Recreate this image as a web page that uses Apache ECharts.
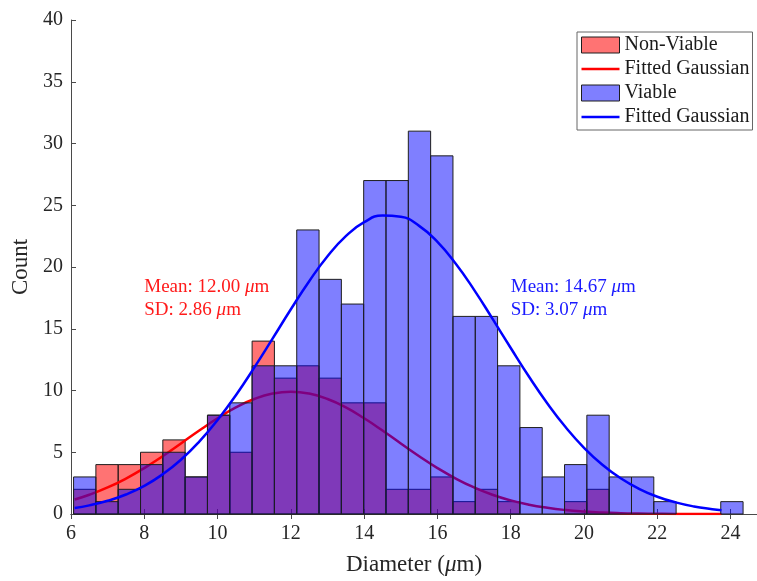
<!DOCTYPE html>
<html>
<head>
<meta charset="utf-8">
<script src="https://cdn.jsdelivr.net/npm/echarts@6/dist/echarts.min.js"></script>
<style>
  html, body { margin: 0; padding: 0; background: #ffffff; }
  #chart { width: 757px; height: 581px; }
</style>
</head>
<body>
<div id="chart"></div>
<script>
// Histogram bins (um)
const binStart = 6.07;
const binWidth = 0.609;

// Counts per bin
const nonViableCounts = [2, 4, 4, 5, 6, 3, 8, 5, 14, 11, 12, 11, 9, 9, 2, 2, 3, 1, 2, 1, 0, 0, 1, 2, 0, 0, 0, 0, 0, 0];
const viableCounts    = [3, 1, 2, 4, 5, 3, 8, 9, 12, 12, 23, 19, 17, 27, 27, 31, 29, 16, 16, 12, 7, 3, 4, 8, 3, 3, 1, 0, 0, 1];

// Fitted Gaussian curves (count scale)
const curveX = [6.1, 6.5, 7, 7.5, 8, 8.5, 9, 9.5, 10, 10.5, 11, 11.5, 12, 12.5, 13, 13.5, 14, 14.5, 15, 15.5,
                16, 16.5, 17, 17.5, 18, 18.5, 19, 19.5, 20, 20.5, 21, 21.5, 22, 22.5, 23, 23.5, 23.75];
const nonViableFit = [1.18, 1.56, 2.15, 2.87, 3.72, 4.68, 5.71, 6.76, 7.75, 8.63, 9.31, 9.75, 9.90, 9.75, 9.31, 8.63, 7.75, 6.76, 5.71, 4.68,
                      3.72, 2.87, 2.15, 1.56, 1.10, 0.75, 0.50, 0.32, 0.20, 0.12, 0.07, 0.04, 0.02, 0.01, 0.01, 0.00, 0.00];
const viableFit = [0.49, 0.70, 1.07, 1.58, 2.28, 3.21, 4.39, 5.86, 7.61, 9.62, 11.85, 14.20, 16.58, 18.85, 20.87, 22.50, 23.63, 24.16, 24.06, 23.33,
                   22.03, 20.26, 18.15, 15.82, 13.44, 11.11, 8.95, 7.02, 5.36, 3.99, 2.89, 2.04, 1.40, 0.94, 0.61, 0.39, 0.30];

// Fit statistics
const nonViableStats = { mean: '12.00', sd: '2.86' };
const viableStats = { mean: '14.67', sd: '3.07' };

const FONT = '"Liberation Serif", "DejaVu Serif", serif';
const AXIS_COLOR = '#4a4a4a';
const RED_FILL = 'rgba(255,0,0,0.55)';
const BLUE_FILL = 'rgba(0,0,255,0.5)';
const EDGE = '#1e1e1e';
// Legend glyph for a fitted curve: a horizontal stroke centred in a 38x16 box
const LINE_ICON = 'path://M0,0h38v0.01h-38z M0,6.8h38v2.4h-38z M0,15.99h38v0.01h-38z';

function binData(counts) {
  return counts
    .map((c, i) => [binStart + i * binWidth, binStart + (i + 1) * binWidth, c])
    .filter(d => d[2] > 0);
}

function histRenderer(fill) {
  return function (params, api) {
    const p0 = api.coord([api.value(0), api.value(2)]);
    const p1 = api.coord([api.value(1), 0]);
    return {
      type: 'rect',
      shape: { x: p0[0], y: p0[1], width: p1[0] - p0[0], height: p1[1] - p0[1] },
      style: { fill: fill, stroke: EDGE, lineWidth: 1 }
    };
  };
}

const chart = echarts.init(document.getElementById('chart'), null, { renderer: 'canvas' });

const option = {
  animation: false,
  backgroundColor: '#ffffff',
  textStyle: { fontFamily: FONT },
  grid: { left: 71, right: 0, top: 20, bottom: 61, containLabel: false },
  xAxis: [
    {
      type: 'value', min: 6, max: 24.72, interval: 2,
      name: '{n|Diameter (}{i|μ}{n|m)}',
      nameLocation: 'middle', nameGap: 39,
      nameTextStyle: {
        rich: {
          n: { fontFamily: FONT, fontSize: 23, color: '#262626' },
          i: { fontFamily: FONT, fontSize: 23, fontStyle: 'italic', color: '#262626' }
        }
      },
      axisLine: { show: true, onZero: false, lineStyle: { color: AXIS_COLOR, width: 1 } },
      axisTick: { show: true, inside: true, length: 5, lineStyle: { color: AXIS_COLOR } },
      axisLabel: { fontFamily: FONT, fontSize: 20, color: '#262626', margin: 10, showMaxLabel: false },
      splitLine: { show: false }
    },
    {
      type: 'value', position: 'top', min: 6, max: 24.72, interval: 2,
      axisLine: { show: true, lineStyle: { color: AXIS_COLOR, width: 1 } },
      axisTick: { show: true, inside: true, length: 5, lineStyle: { color: AXIS_COLOR } },
      axisLabel: { show: false },
      splitLine: { show: false }
    }
  ],
  yAxis: {
    type: 'value', min: 0, max: 40, interval: 5,
    name: 'Count', nameLocation: 'middle', nameGap: 37,
    nameTextStyle: { fontFamily: FONT, fontSize: 23, color: '#262626' },
    axisLine: { show: true, lineStyle: { color: AXIS_COLOR, width: 1 } },
    axisTick: { show: true, inside: true, length: 5, lineStyle: { color: AXIS_COLOR } },
    axisLabel: { fontFamily: FONT, fontSize: 20, color: '#262626', margin: 8 },
    splitLine: { show: false }
  },
  legend: {
    orient: 'vertical',
    left: 577, top: 32,
    padding: [3, 3, 3, 4],
    itemGap: 4,
    itemWidth: 38, itemHeight: 16,
    backgroundColor: '#ffffff',
    borderColor: '#666666', borderWidth: 1,
    textStyle: { fontFamily: FONT, fontSize: 20, color: '#1a1a1a' },
    formatter: name => (name.endsWith(' fit') ? 'Fitted Gaussian' : name),
    data: [
      { name: 'Non-Viable', icon: 'rect', itemStyle: { color: RED_FILL, borderColor: EDGE, borderWidth: 1 } },
      { name: 'Non-Viable fit', icon: LINE_ICON, itemStyle: { color: '#ff0000', borderWidth: 0 } },
      { name: 'Viable', icon: 'rect', itemStyle: { color: BLUE_FILL, borderColor: EDGE, borderWidth: 1 } },
      { name: 'Viable fit', icon: LINE_ICON, itemStyle: { color: '#0000ff', borderWidth: 0 } }
    ]
  },
  series: [
    {
      name: 'Non-Viable', type: 'custom', z: 1,
      renderItem: histRenderer(RED_FILL),
      itemStyle: { color: RED_FILL, borderColor: EDGE, borderWidth: 1 },
      encode: { x: [0, 1], y: 2 },
      data: binData(nonViableCounts)
    },
    {
      name: 'Non-Viable fit', type: 'line', z: 2,
      smooth: true, symbol: 'none', showSymbol: false,
      itemStyle: { color: '#ff0000' },
      lineStyle: { color: '#ff0000', width: 2.5 },
      data: curveX.map((x, i) => [x, nonViableFit[i]])
    },
    {
      name: 'Viable', type: 'custom', z: 3,
      renderItem: histRenderer(BLUE_FILL),
      itemStyle: { color: BLUE_FILL, borderColor: EDGE, borderWidth: 1 },
      encode: { x: [0, 1], y: 2 },
      data: binData(viableCounts)
    },
    {
      name: 'Viable fit', type: 'line', z: 4,
      smooth: true, symbol: 'none', showSymbol: false,
      itemStyle: { color: '#0000ff' },
      lineStyle: { color: '#0000ff', width: 2.5 },
      data: curveX.map((x, i) => [x, viableFit[i]])
    }
  ]
};

chart.setOption(option);

// Mean / SD annotations anchored in data coordinates
function statText(stats, color, at) {
  const p = chart.convertToPixel({ xAxisIndex: 0, yAxisIndex: 0 }, at);
  return {
    type: 'text', x: p[0], y: p[1], z: 100,
    style: {
      text: '{n|Mean: ' + stats.mean + ' }{i|μ}{n|m}\n{n|SD: ' + stats.sd + ' }{i|μ}{n|m}',
      verticalAlign: 'top', align: 'left', fill: color,
      rich: {
        n: { fontFamily: FONT, fontSize: 19, fill: color, lineHeight: 23 },
        i: { fontFamily: FONT, fontSize: 19, fill: color, fontStyle: 'italic', lineHeight: 23 }
      }
    }
  };
}

chart.setOption({
  graphic: [
    statText(nonViableStats, '#ff1a1a', [8.0, 19.3]),
    statText(viableStats, '#1a1aff', [18.0, 19.3])
  ]
});
</script>
</body>
</html>
